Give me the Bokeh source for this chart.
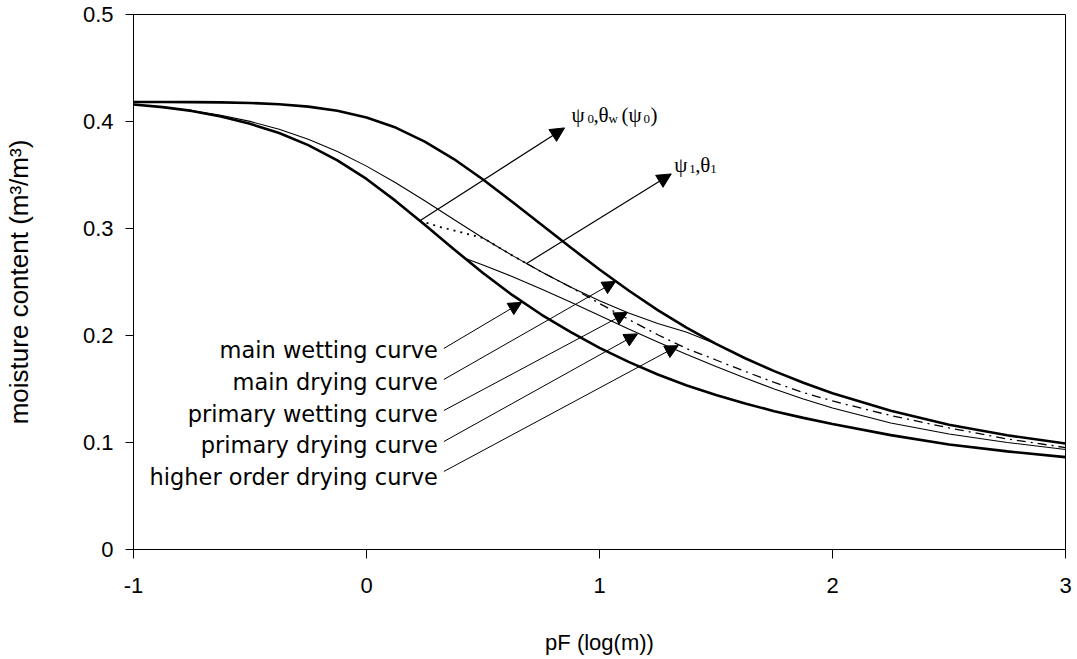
from bokeh.plotting import figure
from bokeh.models import Arrow, NormalHead, ColumnDataSource, FixedTicker, CustomJSTickFormatter
from bokeh.core.properties import value
from bokeh.embed import file_html
from bokeh.resources import INLINE

# ---------------- data ----------------
pf_grid = [-1.0, -0.875, -0.75, -0.625, -0.5, -0.375, -0.25, -0.125, 0.0, 0.125, 0.25, 0.375, 0.5,
           0.625, 0.75, 0.875, 1.0, 1.125, 1.25, 1.375, 1.5, 1.625, 1.75, 1.875, 2.0,
           2.25, 2.5, 2.75, 3.0]
main_drying = [0.4182, 0.4182, 0.4181, 0.4179, 0.4173, 0.4161, 0.4139, 0.4101, 0.4038, 0.3943, 0.3812,
               0.3649, 0.3458, 0.3250, 0.3037, 0.2824, 0.2617, 0.2421, 0.2237, 0.2071, 0.1921, 0.1787,
               0.1667, 0.1558, 0.1460, 0.1296, 0.1165, 0.1067, 0.0991]
main_wetting = [0.4159, 0.4134, 0.4099, 0.4047, 0.3979, 0.3892, 0.3779, 0.3637, 0.3463, 0.3258, 0.3035,
                0.2806, 0.2584, 0.2379, 0.2196, 0.2033, 0.1885, 0.1754, 0.1636, 0.1533, 0.1443, 0.1364,
                0.1293, 0.1230, 0.1173, 0.1069, 0.0982, 0.0917, 0.0863]

primary_wetting_x = [-1.0, -0.875, -0.75, -0.625, -0.5, -0.375, -0.25, -0.125, 0.0, 0.125, 0.25,
                     0.375, 0.5, 0.625, 0.75, 0.875, 1.0, 1.125, 1.25, 1.375, 1.5]
primary_wetting_y = [0.4159, 0.4134, 0.4102, 0.4058, 0.4001, 0.3927, 0.3835, 0.3720, 0.3583, 0.3428,
                     0.3259, 0.3084, 0.2912, 0.2749, 0.2595, 0.2453, 0.2325, 0.2210, 0.2112, 0.2030, 0.1921]

primary_drying_x = [0.422, 0.5, 0.625, 0.75, 0.875, 1.0, 1.125, 1.25, 1.375, 1.5, 1.625, 1.75, 1.875,
                    2.0, 2.25, 2.5, 2.75, 3.0]
primary_drying_y = [0.2722, 0.2659, 0.2551, 0.2435, 0.2313, 0.2187, 0.2061, 0.1939, 0.1822, 0.1710,
                    0.1603, 0.1500, 0.1407, 0.1322, 0.1182, 0.1079, 0.1000, 0.0935]

scanning_x = [0.229, 0.323, 0.409, 0.5, 0.625, 0.687]
scanning_y = [0.3072, 0.3009, 0.2963, 0.2912, 0.2749, 0.2673]

higher_order_x = [0.687, 0.75, 0.875, 1.0, 1.125, 1.25, 1.375, 1.5, 1.625, 1.75, 1.875, 2.0,
                  2.25, 2.5, 2.75, 3.0]
higher_order_y = [0.2673, 0.2595, 0.2453, 0.2300, 0.2150, 0.2007, 0.1877, 0.1771, 0.1664, 0.1561,
                  0.1467, 0.1388, 0.1252, 0.1136, 0.1033, 0.0953]

x_ticks = [-1, 0, 1, 2, 3]
y_ticks = [0, 0.1, 0.2, 0.3, 0.4, 0.5]

curve_labels = ["main wetting curve", "main drying curve", "primary wetting curve",
                "primary drying curve", "higher order drying curve"]
curve_label_x = [0.306, 0.306, 0.306, 0.306, 0.306]
curve_label_y = [0.1860, 0.1561, 0.1262, 0.0972, 0.0682]

pointer_x0 = [0.332, 0.332, 0.332, 0.332, 0.332]
pointer_y0 = [0.1879, 0.1589, 0.1299, 0.1009, 0.0729]
pointer_x1 = [0.666, 1.069, 1.120, 1.163, 1.338]
pointer_y1 = [0.2310, 0.2505, 0.2215, 0.2015, 0.1905]

psi_arrow_x0 = [0.229, 0.687]
psi_arrow_y0 = [0.3072, 0.2673]
psi_arrow_x1 = [0.850, 1.308]
psi_arrow_y1 = [0.394, 0.351]

# symbol labels: pieces of text (main glyph / subscript)
sym_text = ["ψ", "0", ",", "θ", "w", "(", "ψ", "0", ")",
            "ψ", "1", ",", "θ", "1"]
sym_x = [0.880] * 9 + [1.321] * 5
sym_y = [0.4065] * 9 + [0.3598] * 5
sym_dx = [0, 16, 22, 27, 37, 50, 57, 72, 79,
          0, 15, 21, 26, 36]
sym_dy = [0, 4, 0, 0, 4, 0, 0, 4, 0,
          0, 4, 0, 0, 4]
sym_size = ["21px", "13px", "21px", "21px", "13px", "21px", "21px", "13px", "21px",
            "21px", "13px", "21px", "21px", "13px"]

# ---------------- figure ----------------
p = figure(width=1077, height=659, x_range=(-1, 3), y_range=(0, 0.5),
           output_backend="svg", toolbar_location=None,
           min_border_left=131, min_border_right=12, min_border_top=14, min_border_bottom=110)
p.background_fill_color = "white"
p.border_fill_color = "white"
p.outline_line_color = "black"
p.outline_line_width = 1
p.xgrid.visible = False
p.ygrid.visible = False

fmt = CustomJSTickFormatter(code="return String(Math.round(tick*10)/10);")
for ax in (p.xaxis[0], p.yaxis[0]):
    ax.formatter = fmt
    ax.axis_line_color = "black"
    ax.axis_line_width = 1
    ax.major_tick_line_color = "black"
    ax.major_tick_in = 0
    ax.minor_tick_line_color = None
    ax.major_label_text_font = "Liberation Sans"
    ax.major_label_text_font_size = "22px"
    ax.major_label_text_color = "black"
    ax.axis_label_text_font = "Liberation Sans"
    ax.axis_label_text_font_style = "normal"
    ax.axis_label_text_color = "black"

p.xaxis.ticker = FixedTicker(ticks=x_ticks)
p.yaxis.ticker = FixedTicker(ticks=y_ticks)
p.xaxis.major_tick_out = 9
p.yaxis.major_tick_out = 8
p.xaxis.major_label_standoff = 19
p.yaxis.major_label_standoff = 12
p.xaxis.axis_label = "pF (log(m))"
p.yaxis.axis_label = "moisture content (m³/m³)"
p.xaxis.axis_label_text_font_size = "22px"
p.yaxis.axis_label_text_font_size = "26px"
p.xaxis.axis_label_standoff = 34
p.yaxis.axis_label_standoff = 46

# curves
p.line(pf_grid, main_drying, line_color="black", line_width=2.6)
p.line(pf_grid, main_wetting, line_color="black", line_width=2.6)
p.line(primary_wetting_x, primary_wetting_y, line_color="black", line_width=1.1)
p.line(primary_drying_x, primary_drying_y, line_color="black", line_width=1.1)
p.line(scanning_x, scanning_y, line_color="black", line_width=1.8, line_dash="2 5")
p.line(higher_order_x, higher_order_y, line_color="black", line_width=1.3, line_dash="9 5 2 5")

# pointer arrows
ptr_src = ColumnDataSource(dict(x0=pointer_x0, y0=pointer_y0, x1=pointer_x1, y1=pointer_y1))
p.add_layout(Arrow(source=ptr_src, x_start="x0", y_start="y0", x_end="x1", y_end="y1",
                   line_color="black", line_width=1,
                   end=NormalHead(size=13, fill_color="black", line_color="black", line_width=1)))
psi_src = ColumnDataSource(dict(x0=psi_arrow_x0, y0=psi_arrow_y0, x1=psi_arrow_x1, y1=psi_arrow_y1))
p.add_layout(Arrow(source=psi_src, x_start="x0", y_start="y0", x_end="x1", y_end="y1",
                   line_color="black", line_width=1.2,
                   end=NormalHead(size=14, fill_color="black", line_color="black", line_width=1)))

# curve labels
lab_src = ColumnDataSource(dict(x=curve_label_x, y=curve_label_y, t=curve_labels))
p.text(x="x", y="y", text="t", source=lab_src, text_align="right", text_baseline="alphabetic",
       text_font=value("DejaVu Sans"), text_font_size="22.5px", text_color="black")

# symbol labels
sym_src = ColumnDataSource(dict(x=sym_x, y=sym_y, t=sym_text, dx=sym_dx, dy=sym_dy, s=sym_size))
p.text(x="x", y="y", text="t", source=sym_src, x_offset="dx", y_offset="dy", text_font_size="s",
       text_align="left", text_baseline="alphabetic",
       text_font=value("Liberation Serif"), text_color="black")

open("out.html", "w").write(file_html(p, INLINE))
